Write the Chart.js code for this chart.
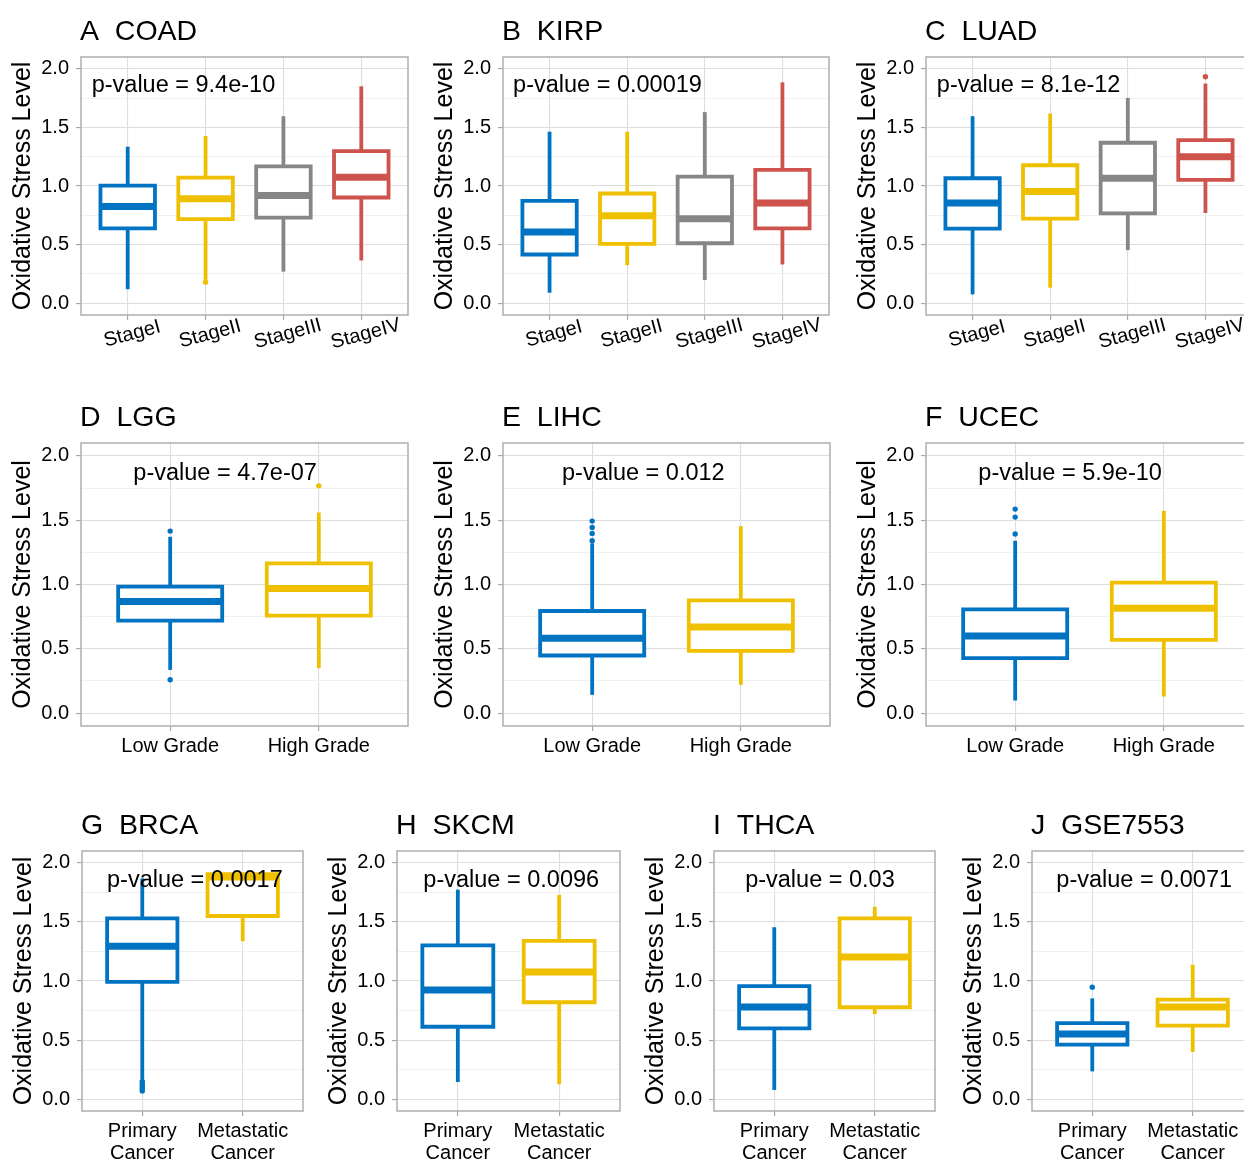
<!DOCTYPE html>
<html>
<head>
<meta charset="utf-8">
<script src="https://cdn.jsdelivr.net/npm/chart.js@4.4.0/dist/chart.umd.min.js"></script>
<style>
html, body { margin: 0; padding: 0; background: #ffffff; }
body { position: relative; width: 1244px; height: 1163px; overflow: hidden; }
canvas { position: absolute; }
</style>
</head>
<body>
<script>
// ---------------- data ----------------
const panelTitles = ['A  COAD', 'B  KIRP', 'C  LUAD', 'D  LGG', 'E  LIHC', 'F  UCEC', 'G  BRCA', 'H  SKCM', 'I  THCA', 'J  GSE7553'];
const pValueLabels = ['p-value = 9.4e-10', 'p-value = 0.00019', 'p-value = 8.1e-12', 'p-value = 4.7e-07', 'p-value = 0.012',
  'p-value = 5.9e-10', 'p-value = 0.0017', 'p-value = 0.0096', 'p-value = 0.03', 'p-value = 0.0071'];
const yAxisTitle = 'Oxidative Stress Level';

const stageLabels = ['StageI', 'StageII', 'StageIII', 'StageIV'];
const gradeLabels = ['Low Grade', 'High Grade'];
const sampleLabels = [['Primary', 'Cancer'], ['Metastatic', 'Cancer']];
const panelCategories = [stageLabels, stageLabels, stageLabels, gradeLabels, gradeLabels, gradeLabels,
  sampleLabels, sampleLabels, sampleLabels, sampleLabels];

const yTickValues = [0, 0.25, 0.5, 0.75, 1, 1.25, 1.5, 1.75, 2];

// box statistics, one inner array per panel (A..J), one value per category
const whiskerLow = [
  [0.12, 0.20, 0.27, 0.365], [0.09, 0.325, 0.198, 0.331], [0.076, 0.133, 0.453, 0.77],
  [0.336, 0.349], [0.142, 0.22], [0.098, 0.129],
  [0.168, 1.337], [0.145, 0.126], [0.078, 0.719], [0.235, 0.40]];
const lowerHinge = [
  [0.639, 0.718, 0.73, 0.902], [0.416, 0.506, 0.512, 0.639], [0.636, 0.721, 0.767, 1.052],
  [0.719, 0.758], [0.448, 0.484], [0.427, 0.569],
  [0.993, 1.55], [0.613, 0.82], [0.599, 0.778], [0.462, 0.623]];
const medians = [
  [0.826, 0.891, 0.919, 1.075], [0.608, 0.747, 0.721, 0.854], [0.854, 0.953, 1.066, 1.25],
  [0.867, 0.968], [0.582, 0.67], [0.60, 0.815],
  [1.295, 1.88], [0.923, 1.077], [0.78, 1.203], [0.551, 0.78]];
const upperHinge = [
  [1.004, 1.072, 1.168, 1.298], [0.874, 0.936, 1.08, 1.137], [1.066, 1.177, 1.369, 1.392],
  [0.983, 1.164], [0.794, 0.877], [0.807, 1.014],
  [1.53, 1.905], [1.301, 1.34], [0.957, 1.53], [0.643, 0.842]];
const whiskerHigh = [
  [1.335, 1.426, 1.595, 1.85], [1.463, 1.463, 1.63, 1.884], [1.595, 1.618, 1.751, 1.873],
  [1.371, 1.56], [1.32, 1.454], [1.34, 1.573],
  [1.868, 1.91], [1.773, 1.729], [1.455, 1.628], [0.853, 1.138]];
const outliers = [
  [[], [0.18], [], []], [[], [], [], []], [[], [], [], [1.932]],
  [[1.415, 0.259], [1.767]], [[1.493, 1.444, 1.397, 1.34], []], [[1.586, 1.524, 1.392], []],
  [[0.15, 0.13, 0.11, 0.09, 0.07], []], [[], []], [[], []], [[0.948], []]];

// ---------------- layout & style ----------------
const groupColors = ['#0073C2', '#EFC000', '#868686', '#CD534C'];
const plotRects = [
  [81, 57, 408, 315], [503, 57, 829, 315], [926, 57, 1252, 315],
  [81, 443, 408, 726], [503, 443, 830, 726], [926, 443, 1253, 726],
  [82, 851, 303, 1111], [397, 851, 620, 1111], [714, 851, 935, 1111], [1032, 851, 1253, 1111]];
const pLabelPos = [
  [-0.463, 1.86], [-0.47, 1.86], [-0.46, 1.86],
  [-0.248, 1.865], [-0.203, 1.865], [-0.248, 1.865],
  [-0.351, 1.85], [-0.34, 1.85], [-0.29, 1.85], [-0.358, 1.85]];
const PAD = { l: 90, t: 60, r: 12, b: 62 };
const FONT = '"Liberation Sans", Arial, Helvetica, sans-serif';
const BOX_HALF = 0.35;
const LINE_W = 3.8;
const MEDIAN_W = 7;
const TEXT_COLOR = '#000000';

function isMajor(v) { return Math.abs(v * 2 - Math.round(v * 2)) < 1e-9; }

function buildPanel(k) {
  const [L, T, R, B] = plotRects[k];
  const cats = panelCategories[k];
  const n = cats.length;
  const rotated = k < 3;
  const cw = R - L + PAD.l + PAD.r;
  const ch = B - T + PAD.t + PAD.b;
  const canvas = document.createElement('canvas');
  canvas.width = cw; canvas.height = ch;
  canvas.style.left = (L - PAD.l) + 'px';
  canvas.style.top = (T - PAD.t) + 'px';
  canvas.style.width = cw + 'px';
  canvas.style.height = ch + 'px';
  document.body.appendChild(canvas);

  const datasets = [];
  for (let i = 0; i < n; i++) {
    const c = groupColors[i];
    const lo = whiskerLow[k][i], q1 = lowerHinge[k][i], md = medians[k][i], q3 = upperHinge[k][i], hi = whiskerHigh[k][i];
    const lineBase = { showLine: true, borderColor: c, pointRadius: 0, pointHoverRadius: 0, tension: 0, fill: false };
    datasets.push(Object.assign({}, lineBase, { data: [{ x: i, y: lo }, { x: i, y: q1 }], borderWidth: LINE_W, borderCapStyle: 'butt', order: 4 }));
    datasets.push(Object.assign({}, lineBase, { data: [{ x: i, y: q3 }, { x: i, y: hi }], borderWidth: LINE_W, borderCapStyle: 'butt', order: 4 }));
    datasets.push(Object.assign({}, lineBase, {
      data: [{ x: i - BOX_HALF, y: q1 }, { x: i + BOX_HALF, y: q1 }, { x: i + BOX_HALF, y: q3 }, { x: i - BOX_HALF, y: q3 }, { x: i - BOX_HALF, y: q1 }],
      fill: 'shape', backgroundColor: '#ffffff', borderWidth: LINE_W, borderCapStyle: 'square', borderJoinStyle: 'miter', order: 3
    }));
    datasets.push(Object.assign({}, lineBase, { data: [{ x: i - BOX_HALF, y: md }, { x: i + BOX_HALF, y: md }], borderWidth: MEDIAN_W, borderCapStyle: 'butt', order: 2 }));
    datasets.push({
      data: outliers[k][i].map(v => ({ x: i, y: v })), showLine: false, pointRadius: 2.7, pointHoverRadius: 2.7,
      pointBackgroundColor: c, pointBorderWidth: 0, borderColor: c, order: 1
    });
  }

  const decor = {
    id: 'decor' + k,
    afterDatasetsDraw(chart) {
      const ctx = chart.ctx;
      const xs = chart.scales.x, ys = chart.scales.y;
      ctx.save();
      ctx.fillStyle = '#000000';
      ctx.font = '23.5px ' + FONT;
      ctx.textAlign = 'left';
      ctx.textBaseline = 'middle';
      ctx.fillText(pValueLabels[k], xs.getPixelForValue(pLabelPos[k][0]), ys.getPixelForValue(pLabelPos[k][1]));
      ctx.restore();
    },
    afterDraw(chart) {
      const ctx = chart.ctx;
      const a = chart.chartArea;
      const xs = chart.scales.x;
      ctx.save();
      ctx.strokeStyle = '#B3B3B3';
      ctx.lineWidth = 1.6;
      ctx.strokeRect(a.left, a.top, a.right - a.left, a.bottom - a.top);
      ctx.fillStyle = '#000000';
      ctx.font = '28.5px ' + FONT;
      ctx.textAlign = 'left';
      ctx.textBaseline = 'alphabetic';
      ctx.fillText(panelTitles[k], a.left - 1, a.top - 17.5);
      ctx.save();
      ctx.translate(a.left - 58, (a.top + a.bottom) / 2);
      ctx.rotate(-Math.PI / 2);
      ctx.font = '25px ' + FONT;
      ctx.textAlign = 'center';
      ctx.textBaseline = 'middle';
      ctx.fillStyle = TEXT_COLOR;
      ctx.fillText(yAxisTitle, 0, 0);
      ctx.restore();
      if (rotated) {
        ctx.font = '20px ' + FONT;
        ctx.fillStyle = TEXT_COLOR;
        ctx.textAlign = 'center';
        ctx.textBaseline = 'middle';
        cats.forEach((lab, i) => {
          ctx.save();
          ctx.translate(xs.getPixelForValue(i) + 4.5, a.bottom + 19);
          ctx.rotate(-15 * Math.PI / 180);
          ctx.fillText(lab, 0, 0);
          ctx.restore();
        });
      }
      ctx.restore();
    }
  };

  new Chart(canvas, {
    type: 'scatter',
    data: { datasets },
    options: {
      responsive: false,
      animation: false,
      events: [],
      devicePixelRatio: 1,
      layout: { padding: { left: 0, top: PAD.t, right: PAD.r, bottom: 0 } },
      plugins: { legend: { display: false }, tooltip: { enabled: false }, title: { display: false } },
      scales: {
        x: {
          type: 'linear',
          min: -0.6,
          max: n - 0.4,
          afterBuildTicks: s => { s.ticks = cats.map((c, i) => ({ value: i })); },
          afterFit: s => { s.height = PAD.b; s.paddingLeft = 0; s.paddingRight = 0; s.paddingTop = 0; s.paddingBottom = 0; },
          border: { display: false },
          grid: { color: '#DEDEDE', lineWidth: 1.1, drawTicks: true, tickLength: 5, tickColor: '#A8A8A8', tickWidth: 1.2 },
          ticks: {
            display: !rotated,
            autoSkip: false,
            maxRotation: 0,
            minRotation: 0,
            padding: k >= 6 ? 5 : 5,
            color: TEXT_COLOR,
            font: { family: FONT, size: 20, lineHeight: 1.08 },
            callback: (v) => cats[Math.round(v)]
          }
        },
        y: {
          type: 'linear',
          min: -0.1,
          max: 2.1,
          afterBuildTicks: s => { s.ticks = yTickValues.map(v => ({ value: v })); },
          afterFit: s => { s.width = PAD.l; s.paddingTop = 0; s.paddingBottom = 0; s.paddingLeft = 0; s.paddingRight = 0; },
          border: { display: false },
          grid: {
            color: c => isMajor(c.tick.value) ? '#DEDEDE' : '#EDEDED',
            lineWidth: c => isMajor(c.tick.value) ? 1.1 : 0.8,
            drawTicks: true,
            tickLength: 5,
            tickColor: c => isMajor(c.tick.value) ? '#A8A8A8' : 'rgba(0,0,0,0)',
            tickWidth: 1.2
          },
          ticks: {
            autoSkip: false,
            padding: 7,
            color: TEXT_COLOR,
            font: { family: FONT, size: 20 },
            callback: (v) => isMajor(v) ? v.toFixed(1) : ''
          }
        }
      }
    },
    plugins: [decor]
  });
}

for (let k = 0; k < panelTitles.length; k++) buildPanel(k);
</script>
</body>
</html>
